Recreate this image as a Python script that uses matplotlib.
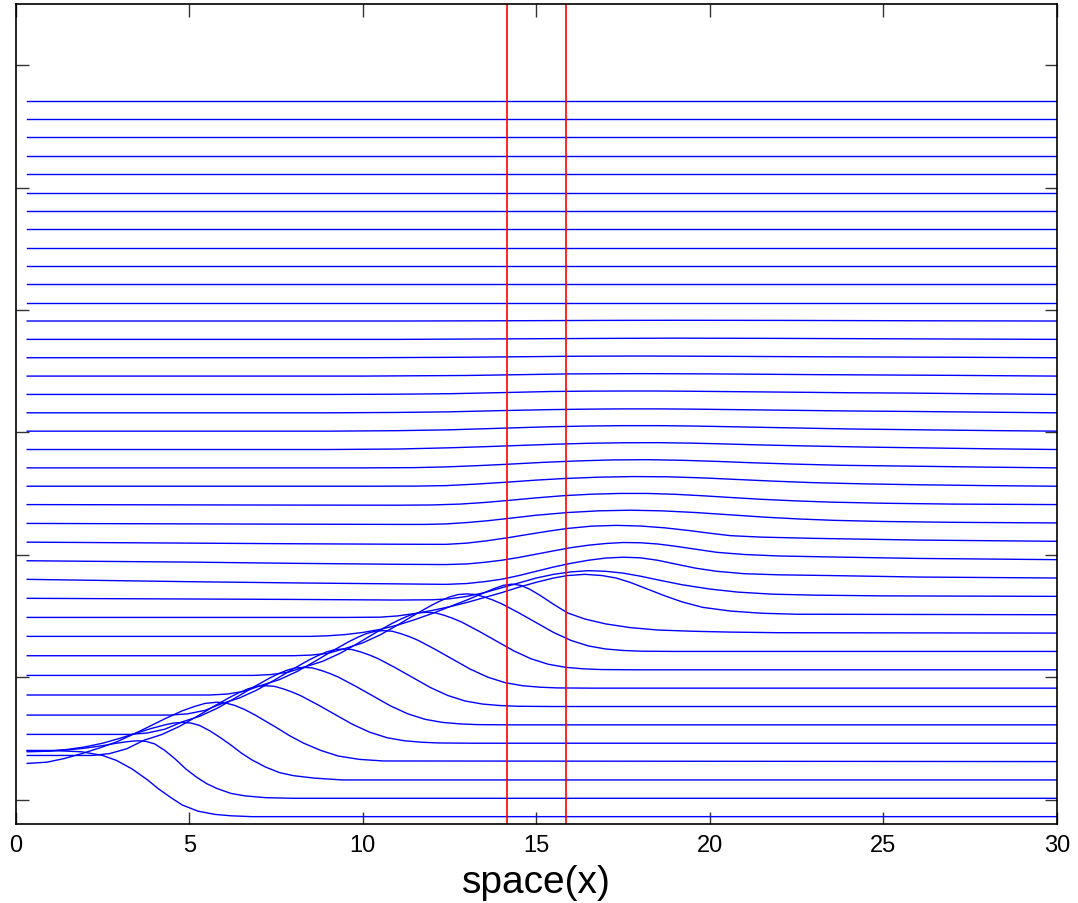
import matplotlib
matplotlib.use('Agg')
import matplotlib.pyplot as plt

plt.rcParams['font.family'] = ['Liberation Sans', 'DejaVu Sans']

# vertical offset of each curve (bottom -> top)
offsets = [-0.14 + 0.15 * k for k in range(40)]

# red markers
red_x = [14.17, 15.87]

x_ticks = [0, 5, 10, 15, 20, 25, 30]
y_ticks = [0, 1, 2, 3, 4, 5, 6]

# x positions and surface height of each curve
curve_x = [
    [0.33, 1.0, 1.5, 1.9, 2.2, 2.5, 2.9, 3.35, 3.8, 4.1, 4.5, 4.8, 5.25, 5.75, 6.2, 6.8, 30],
    [0.33, 1.0, 1.5, 2.0, 2.5, 2.9, 3.2, 3.4, 3.55, 3.75, 4.0, 4.3, 4.6, 4.9, 5.2, 5.5, 5.8, 6.2, 6.6, 7.2, 8.0, 30],
    [0.33, 1.0, 1.5, 2.0, 2.5, 3.0, 3.5, 3.9, 4.3, 4.55, 4.8, 5.05, 5.3, 5.6, 5.9, 6.2, 6.5, 6.8, 7.2, 7.6, 8.0, 8.6, 9.4, 30],
    [0.33, 0.9, 1.4, 1.9, 2.4, 2.9, 3.4, 3.8, 4.3, 4.8, 5.15, 5.45, 5.8, 6.05, 6.3, 6.6, 6.9, 7.2, 7.5, 7.9, 8.3, 8.8, 9.3, 9.9, 10.6, 30],
    [0.33, 2.2, 2.7, 3.2, 3.7, 4.2, 4.7, 5.2, 5.7, 6.2, 6.45, 6.7, 6.95, 7.2, 7.45, 7.7, 7.95, 8.2, 8.7, 9.2, 9.7, 10.2, 10.7, 11.2, 11.7, 12.2, 13.2, 30],
    [0.33, 3.3, 3.8, 4.3, 4.8, 5.3, 5.8, 6.3, 6.8, 7.3, 7.55, 7.8, 8.05, 8.3, 8.55, 8.8, 9.05, 9.3, 9.8, 10.3, 10.8, 11.3, 11.8, 12.3, 12.8, 13.3, 14.3, 30],
    [0.33, 4.45, 4.95, 5.45, 5.95, 6.45, 6.95, 7.45, 7.95, 8.45, 8.7, 8.95, 9.2, 9.45, 9.7, 9.95, 10.2, 10.45, 10.95, 11.45, 11.95, 12.45, 12.95, 13.45, 13.95, 14.45, 15.45, 30],
    [0.33, 5.6, 6.1, 6.6, 7.1, 7.6, 8.1, 8.6, 9.1, 9.6, 9.85, 10.1, 10.35, 10.6, 10.85, 11.1, 11.35, 11.6, 12.1, 12.6, 13.1, 13.6, 14.1, 14.6, 15.1, 15.6, 16.6, 30],
    [0.33, 6.85, 7.35, 7.85, 8.35, 8.85, 9.35, 9.85, 10.35, 10.85, 11.1, 11.35, 11.6, 11.85, 12.1, 12.35, 12.6, 12.85, 13.35, 13.85, 14.35, 14.85, 15.35, 15.85, 16.35, 16.85, 17.85, 30],
    [0.33, 8.0, 8.5, 9.0, 9.5, 10.0, 10.5, 11.0, 11.5, 12.0, 12.25, 12.5, 12.75, 13.0, 13.25, 13.5, 13.75, 14.0, 14.5, 15.0, 15.5, 16.0, 16.5, 17.0, 17.5, 18.0, 19.0, 30],
    [0.33, 8.5, 9.0, 9.5, 10.0, 10.5, 11.0, 11.5, 12.0, 12.5, 13.0, 13.5, 13.8, 14.05, 14.3, 14.55, 14.8, 15.1, 15.5, 15.9, 16.4, 17.0, 17.7, 18.5, 19.5, 20.6, 22, 30],
    [0.33, 9.5, 10.5, 11.0, 11.5, 12.0, 12.5, 13.0, 13.5, 14.0, 14.5, 15.0, 15.5, 15.9, 16.4, 16.9, 17.3, 17.7, 18.2, 18.7, 19.2, 19.8, 20.6, 21.5, 22.5, 30],
    [0.33, 8, 11, 12.0, 12.5, 13.0, 13.5, 14.0, 14.5, 15.0, 15.5, 16.0, 16.5, 17.0, 17.5, 18.0, 18.5, 19.2, 20.0, 20.8, 21.8, 23, 25, 30],
    [0.33, 5, 8, 11, 12.4, 13.0, 13.5, 14.0, 14.5, 15.0, 15.5, 16.0, 16.5, 17.0, 17.5, 18.0, 18.5, 19.0, 19.6, 20.2, 21, 22, 23.5, 26, 30],
    [0.33, 5, 8, 11, 12.4, 13.0, 13.5, 14.0, 14.5, 15.0, 15.5, 16.0, 16.5, 17.0, 17.5, 18.0, 18.5, 19.0, 19.6, 20.2, 21, 22, 23.5, 26, 30],
    [0.33, 8, 11, 12.4, 13.0, 13.6, 14.2, 14.8, 15.4, 15.9, 16.6, 17.3, 18.0, 18.7, 19.4, 20.0, 20.6, 21.5, 23, 26, 30],
    [0.33, 8, 11, 11.8, 12.4, 13.0, 13.6, 14.2, 15.0, 15.9, 16.8, 17.7, 18.6, 19.6, 20.6, 21.6, 22.6, 23.6, 25, 27, 30],
    [0.33, 8, 11, 12.0, 12.8, 13.5, 14.2, 15.0, 15.8, 16.6, 17.4, 18.2, 19.0, 19.8, 20.6, 21.5, 22.5, 23.5, 25, 27, 30],
    [0.33, 10, 11.5, 12.4, 13.3, 14.2, 15.0, 15.8, 16.8, 17.8, 18.8, 19.8, 20.8, 21.8, 23, 24.5, 26, 28, 30],
    [0.33, 10, 11.5, 12.4, 13.3, 14.2, 15.2, 16.2, 17.2, 18.2, 19.2, 20.2, 21.2, 22.4, 23.8, 25.8, 28, 30],
    [0.33, 9, 11, 12.5, 13.5, 14.5, 15.5, 16.5, 17.5, 18.5, 19.5, 20.5, 21.5, 23, 24.5, 26, 28, 30],
    [0.33, 9, 11, 12.5, 14, 15.4, 16.5, 17.5, 18.5, 19.5, 21, 22.5, 24, 25.8, 28, 30],
    [0.33, 9, 11, 12.5, 14, 15.4, 16.5, 17.5, 18.5, 19.5, 21, 22.5, 24, 25.8, 28, 30],
    [0.33, 9, 11, 12.5, 14, 15.4, 16.5, 17.5, 18.5, 19.5, 21, 22.5, 24, 25.8, 28, 30],
    [0.33, 10, 13, 16, 18, 20, 23, 27, 30],
    [0.33, 10, 13, 16, 18, 20, 23, 27, 30],
    [0.33, 11, 14, 17, 19, 22, 26, 30],
    [0.33, 11, 14, 17, 19, 22, 26, 30],
] + [[0.33, 30]] * 12

curve_h = [
    [0.54, 0.54, 0.535, 0.53, 0.515, 0.50, 0.46, 0.39, 0.30, 0.23, 0.15, 0.095, 0.045, 0.018, 0.007, 0.0, 0.0],
    [0.39, 0.39, 0.395, 0.41, 0.43, 0.45, 0.462, 0.468, 0.47, 0.465, 0.445, 0.39, 0.32, 0.24, 0.175, 0.12, 0.08, 0.04, 0.02, 0.005, 0.0, 0.0],
    [0.23, 0.235, 0.25, 0.27, 0.30, 0.34, 0.385, 0.42, 0.45, 0.465, 0.47, 0.465, 0.445, 0.40, 0.345, 0.285, 0.22, 0.165, 0.105, 0.06, 0.035, 0.015, 0.0, 0.0],
    [-0.015, -0.005, 0.025, 0.065, 0.11, 0.16, 0.225, 0.28, 0.35, 0.415, 0.45, 0.475, 0.485, 0.478, 0.46, 0.425, 0.38, 0.33, 0.28, 0.21, 0.15, 0.09, 0.045, 0.018, 0.005, 0.0],
    [-0.10, -0.10, -0.085, -0.045, 0.025, 0.07, 0.135, 0.215, 0.30, 0.38, 0.415, 0.445, 0.465, 0.47, 0.465, 0.445, 0.42, 0.39, 0.315, 0.235, 0.155, 0.09, 0.045, 0.02, 0.008, 0.002, 0.0, 0.0],
    [-0.078, -0.078, -0.066, -0.035, 0.025, 0.07, 0.135, 0.215, 0.30, 0.38, 0.415, 0.445, 0.465, 0.47, 0.465, 0.445, 0.42, 0.39, 0.315, 0.235, 0.155, 0.09, 0.045, 0.02, 0.008, 0.002, 0.0, 0.0],
    [-0.07, -0.07, -0.06, -0.032, 0.025, 0.07, 0.135, 0.215, 0.30, 0.38, 0.415, 0.445, 0.465, 0.47, 0.465, 0.445, 0.42, 0.39, 0.315, 0.235, 0.155, 0.09, 0.045, 0.02, 0.008, 0.002, 0.0, 0.0],
    [-0.056, -0.056, -0.048, -0.025, 0.025, 0.07, 0.135, 0.215, 0.30, 0.38, 0.415, 0.445, 0.465, 0.47, 0.465, 0.445, 0.42, 0.39, 0.315, 0.235, 0.155, 0.09, 0.045, 0.02, 0.008, 0.002, 0.0, 0.0],
    [-0.046, -0.046, -0.039, -0.02, 0.025, 0.07, 0.135, 0.215, 0.30, 0.38, 0.415, 0.445, 0.465, 0.47, 0.465, 0.445, 0.42, 0.39, 0.315, 0.235, 0.155, 0.09, 0.045, 0.02, 0.008, 0.002, 0.0, 0.0],
    [-0.035, -0.035, -0.03, -0.015, 0.025, 0.07, 0.135, 0.215, 0.30, 0.38, 0.415, 0.445, 0.465, 0.47, 0.465, 0.445, 0.42, 0.39, 0.315, 0.235, 0.155, 0.09, 0.045, 0.02, 0.008, 0.002, 0.0, 0.0],
    [-0.027, -0.027, -0.022, -0.012, 0.005, 0.03, 0.065, 0.11, 0.16, 0.215, 0.27, 0.33, 0.365, 0.39, 0.40, 0.39, 0.36, 0.31, 0.235, 0.165, 0.115, 0.075, 0.045, 0.025, 0.015, 0.008, 0.003, 0.0],
    [-0.022, -0.022, -0.02, -0.01, 0.01, 0.035, 0.065, 0.10, 0.14, 0.18, 0.225, 0.265, 0.30, 0.32, 0.33, 0.32, 0.30, 0.265, 0.21, 0.155, 0.105, 0.06, 0.03, 0.012, 0.004, 0.0],
    [-0.016, -0.025, -0.03, -0.028, -0.02, 0.0, 0.03, 0.07, 0.11, 0.15, 0.18, 0.20, 0.21, 0.205, 0.19, 0.165, 0.135, 0.095, 0.06, 0.035, 0.018, 0.01, 0.004, 0.0],
    [-0.011, -0.03, -0.04, -0.048, -0.052, -0.045, -0.03, -0.01, 0.02, 0.055, 0.09, 0.12, 0.145, 0.163, 0.17, 0.165, 0.145, 0.115, 0.08, 0.055, 0.035, 0.026, 0.02, 0.008, 0.0],
    [-0.009, -0.02, -0.03, -0.038, -0.04, -0.035, -0.022, -0.005, 0.018, 0.045, 0.072, 0.098, 0.118, 0.132, 0.14, 0.138, 0.128, 0.11, 0.085, 0.06, 0.042, 0.03, 0.022, 0.01, 0.0],
    [-0.007, -0.02, -0.024, -0.025, -0.015, 0.005, 0.03, 0.058, 0.085, 0.105, 0.124, 0.13, 0.125, 0.11, 0.088, 0.066, 0.046, 0.034, 0.024, 0.01, 0.0],
    [-0.004, -0.01, -0.012, -0.012, -0.008, 0.003, 0.018, 0.037, 0.063, 0.085, 0.099, 0.104, 0.099, 0.085, 0.066, 0.047, 0.032, 0.021, 0.012, 0.005, 0.0],
    [0.0, -0.004, -0.005, -0.003, 0.004, 0.017, 0.034, 0.055, 0.073, 0.085, 0.091, 0.091, 0.084, 0.072, 0.058, 0.043, 0.03, 0.02, 0.011, 0.004, 0.0],
    [0.0, 0.0, 0.001, 0.005, 0.018, 0.034, 0.05, 0.063, 0.074, 0.079, 0.077, 0.068, 0.055, 0.042, 0.029, 0.019, 0.012, 0.005, 0.0],
    [0.0, 0.0, 0.002, 0.008, 0.018, 0.03, 0.045, 0.057, 0.065, 0.067, 0.062, 0.053, 0.042, 0.031, 0.021, 0.014, 0.006, 0.0],
    [0.0, 0.0, 0.004, 0.014, 0.023, 0.033, 0.043, 0.051, 0.055, 0.056, 0.052, 0.045, 0.037, 0.028, 0.02, 0.014, 0.006, 0.0],
    [0.0, 0.0, 0.004, 0.011, 0.024, 0.036, 0.042, 0.045, 0.045, 0.042, 0.034, 0.026, 0.018, 0.012, 0.005, 0.0],
    [0.0, 0.0, 0.003, 0.008, 0.018, 0.026, 0.03, 0.032, 0.032, 0.03, 0.025, 0.02, 0.015, 0.011, 0.005, 0.0],
    [0.0, 0.0, 0.002, 0.006, 0.015, 0.024, 0.027, 0.028, 0.028, 0.026, 0.022, 0.018, 0.014, 0.011, 0.005, 0.0],
    [0.0, 0.0, 0.005, 0.018, 0.02, 0.018, 0.012, 0.006, 0.0],
    [0.0, 0.0, 0.004, 0.012, 0.014, 0.012, 0.008, 0.004, 0.0],
    [0.0, 0.0, 0.004, 0.008, 0.01, 0.008, 0.004, 0.0],
    [0.0, 0.0, 0.002, 0.005, 0.006, 0.005, 0.002, 0.0],
] + [[0.0, 0.0]] * 12

fig = plt.figure(figsize=(10.78, 9.04), dpi=100)
ax = fig.add_axes([0.0146, 0.0874, 0.9657, 0.907])

for xs, hs, off in zip(curve_x, curve_h, offsets):
    ax.plot(xs, [h + off for h in hs], color='b', lw=1.0)

for xr in red_x:
    ax.axvline(xr, color='r', lw=1.2)

ax.set_xlim(0, 30)
ax.set_ylim(-0.2, 6.5)
ax.set_xticks(x_ticks)
ax.set_yticks(y_ticks)
ax.set_yticklabels([])
ax.tick_params(direction='in', length=9, width=1, top=True, right=True,
               labelsize=17, color='#333333', pad=7)
for s in ax.spines.values():
    s.set_linewidth(1.2)
ax.set_xlabel('space(x)', fontsize=28, labelpad=6)

def main():
    fig.savefig('out.png', dpi=100)

if __name__ == "__main__":
    main()
